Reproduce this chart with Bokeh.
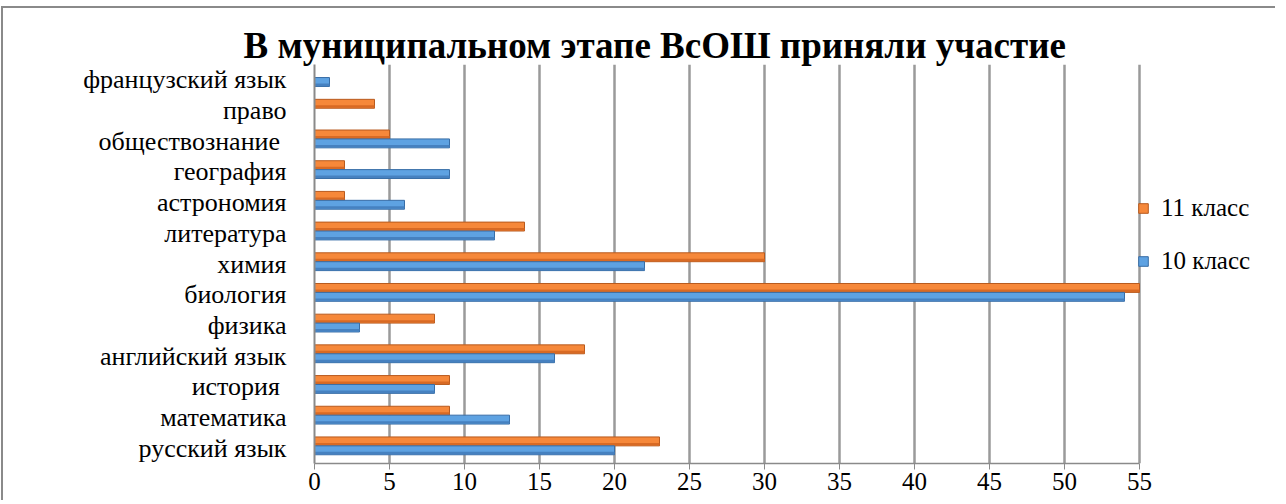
from bokeh.plotting import figure
from bokeh.models import (FactorRange, Range1d, FixedTicker, Legend,
                          LegendItem, ColumnDataSource)
from bokeh.transform import dodge
from bokeh.embed import file_html
from bokeh.resources import INLINE

categories = ["русский язык", "математика", "история ", "английский язык",
              "физика", "биология", "химия", "литература", "астрономия",
              "география", "обществознание ", "право", "французский язык"]
grade10 = [20, 13, 8, 16, 3, 54, 22, 12, 6, 9, 9, 0, 1]
grade11 = [23, 9, 9, 18, 8, 55, 30, 14, 2, 2, 5, 4, 0]
series_names = ["10 класс", "11 класс"]
x_ticks = [0, 5, 10, 15, 20, 25, 30, 35, 40, 45, 50, 55]
title_text = "В муниципальном  этапе ВсОШ приняли участие"

src = ColumnDataSource(dict(cat=categories, g10=grade10, g11=grade11))

FONT = "Times New Roman"

# frame: 55 units over 825 px, extra room on the right for the legend
p = figure(y_range=FactorRange(factors=categories),
           x_range=Range1d(0, 961 / 15.0),
           width=1274, height=494,
           output_backend="svg", toolbar_location=None,
           min_border_left=311, min_border_right=2,
           min_border_top=56, min_border_bottom=39)
p.styles = {"border-left": "2px solid #8a8a8a", "border-top": "2px solid #8a8a8a",
            "margin-left": "1px", "margin-top": "6px"}

p.outline_line_color = None
p.background_fill_color = "white"
p.border_fill_color = "white"

p.title.text = title_text
p.title.text_font = FONT
p.title.text_font_size = "37px"
p.title.text_font_style = "bold"
p.title.text_color = "black"
p.title.align = "left"
p.title.offset = -71
p.title.standoff = -2

# bars (orange = 11 класс above, blue = 10 класс below), with a darker lower band
off11, off10, h = 0.22, -0.07, 0.29
r11 = p.hbar(y=dodge("cat", off11, range=p.y_range), right="g11", left=0, height=h,
             source=src, fill_color="#F6883A", line_color="#B85A1E", line_width=1)
p.hbar(y=dodge("cat", off11 - 0.09, range=p.y_range), right="g11", left=0, height=0.08,
       source=src, fill_color="#D86A24", line_color=None)
r10 = p.hbar(y=dodge("cat", off10, range=p.y_range), right="g10", left=0, height=h,
             source=src, fill_color="#5EA2E2", line_color="#386DA6", line_width=1)
p.hbar(y=dodge("cat", off10 - 0.09, range=p.y_range), right="g10", left=0, height=0.08,
       source=src, fill_color="#4681C0", line_color=None)

# axes
p.xaxis.ticker = FixedTicker(ticks=x_ticks)
p.xaxis.bounds = (x_ticks[0], x_ticks[-1])
p.xaxis.axis_line_color = "#8a8a8a"
p.xaxis.axis_line_width = 1.5
p.xaxis.major_tick_line_color = "#8a8a8a"
p.xaxis.major_tick_out = 6
p.xaxis.major_tick_in = 0
p.xaxis.minor_tick_line_color = None
p.xaxis.major_label_text_font = FONT
p.xaxis.major_label_text_font_size = "25px"
p.xaxis.major_label_text_color = "black"
p.xaxis.major_label_standoff = 3

p.yaxis.axis_line_color = "#8a8a8a"
p.yaxis.axis_line_width = 2
p.yaxis.major_tick_line_color = None
p.yaxis.major_label_text_font = FONT
p.yaxis.major_label_text_font_size = "26px"
p.yaxis.major_label_text_color = "black"
p.yaxis.major_label_standoff = 22

p.xgrid.grid_line_color = "#9a9a9a"
p.xgrid.grid_line_width = 2.5
p.ygrid.grid_line_color = None

legend = Legend(items=[LegendItem(label=series_names[1], renderers=[r11]),
                       LegendItem(label=series_names[0], renderers=[r10])],
                location=(823, 188))
legend.glyph_width = 12
legend.glyph_height = 12
legend.label_text_font = FONT
legend.label_text_font_size = "25px"
legend.label_text_color = "black"
legend.label_standoff = 12
legend.spacing = 25
legend.padding = 0
legend.margin = 0
legend.border_line_color = None
legend.background_fill_alpha = 0
p.add_layout(legend)

open("out.html", "w").write(file_html(p, INLINE))
